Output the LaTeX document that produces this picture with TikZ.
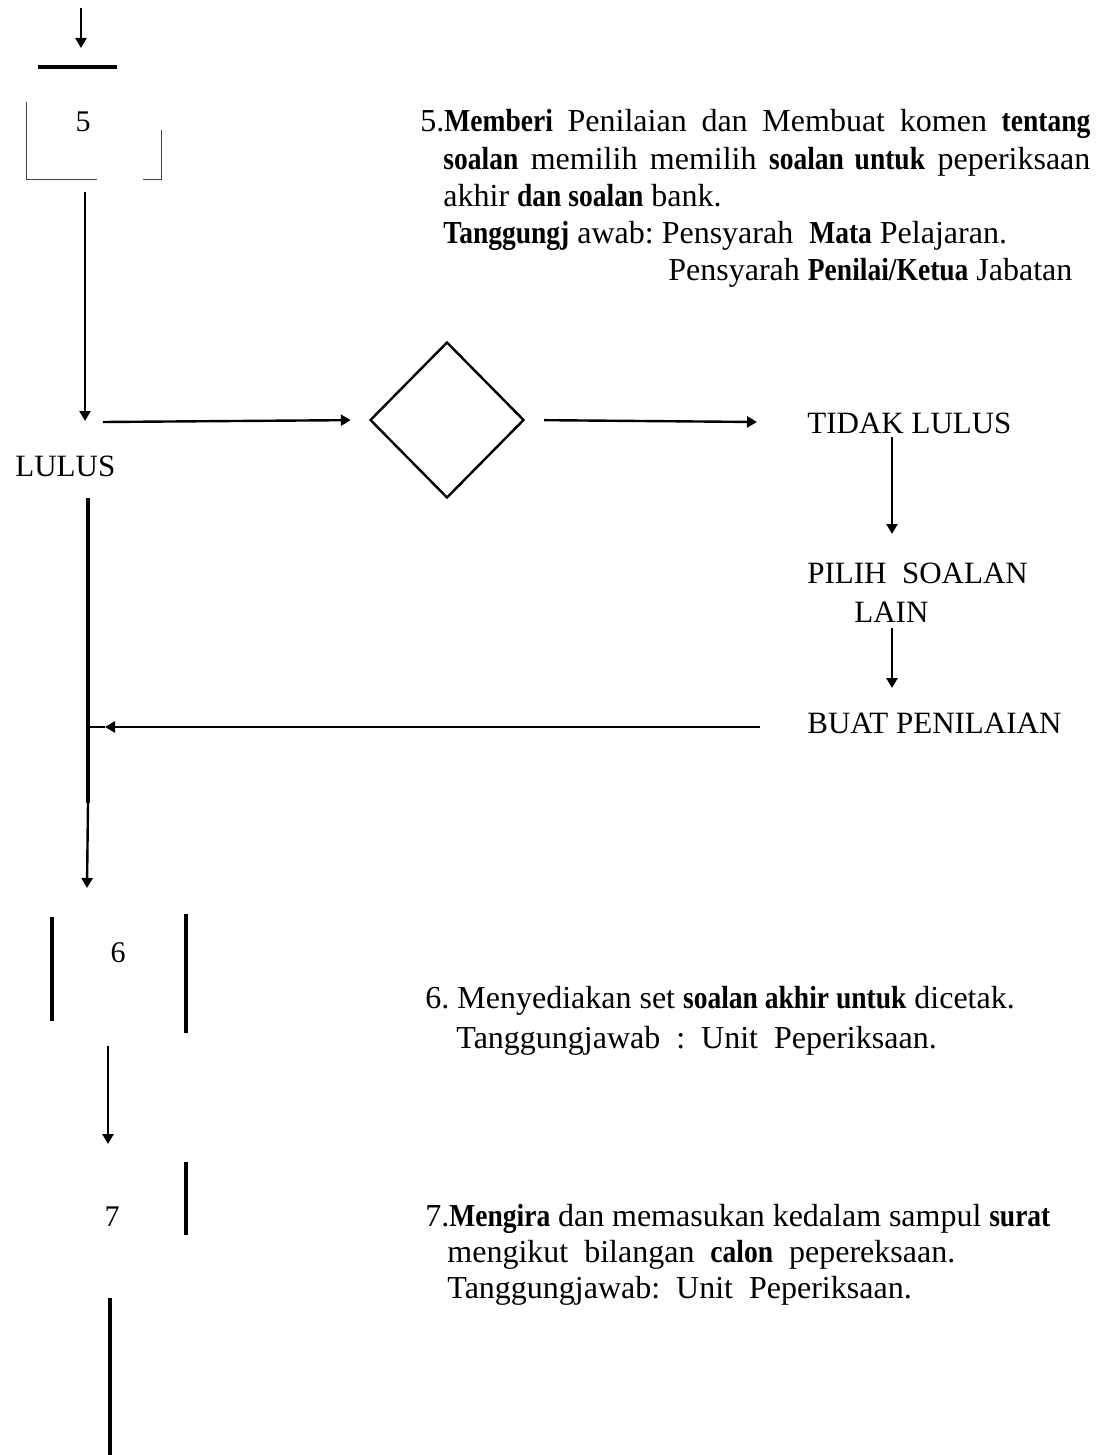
\documentclass[tikz,border=0pt]{standalone}
\usepackage{fontspec}
\setmainfont{Liberation Serif}[BoldFeatures={FakeStretch=0.86}]
\usetikzlibrary{arrows.meta,shapes.geometric}

\tikzset{
	flow/.style={line width=1.2pt,-{Triangle[length=5pt,width=5.5pt]}},
	bar/.style={line width=1.6pt},
	faint/.style={line width=0.5pt,black!75},
	txt/.style={anchor=base west,inner sep=0pt,font=\fontsize{16pt}{18pt}\selectfont\frenchspacing},
	lbl/.style={anchor=base west,inner sep=0pt,font=\fontsize{15.5pt}{18pt}\selectfont},
	num/.style={inner sep=0pt,font=\fontsize{15pt}{18pt}\selectfont},
	dec/.style={draw,diamond,line width=1.2pt,inner sep=0pt,minimum width=77pt,minimum height=78pt}
}

\begin{document}
\begin{tikzpicture}[x=0.5pt,y=-0.5pt]
	\useasboundingbox (0,0) rectangle (1102,1455);
	
	\coordinate (in1) at (81,8);
	\coordinate (in2) at (81,48);
	\draw[flow] (in1) -- (in2);
	\draw[bar] (38,67) -- (117,67);
	
	\node[num] (n5) at (83,122) {5};
	\draw[faint] (26,102) -- (26,180) -- (97,180);
	\draw[faint] (143,180) -- (161,180) -- (161,130);
	
	\coordinate (v1) at (85,192);
	\coordinate (v2) at (85,421);
	\draw[flow] (v1) -- (v2);
	
	\node[dec] (d) at (447,420) {};
	\coordinate (h1) at (103,422);
	\draw[flow,shorten >=9pt] (h1) -- (d.west);
	
	\node[lbl] (tidak) at (807,433) {TIDAK LULUS};
	\coordinate (h2) at (757,422);
	\draw[flow,shorten <=9.5pt] (d.east) -- (h2);
	
	\node[lbl] (lulus) at (15,476) {LULUS};
	
	\coordinate (t1) at (892,437);
	\coordinate (t2) at (892,534);
	\draw[flow] (t1) -- (t2);
	\node[lbl] (pilih) at (807,583) {PILIH\ \ SOALAN};
	\node[lbl] (lain) at (854,622) {LAIN};
	\coordinate (t3) at (892,628);
	\coordinate (t4) at (892,688);
	\draw[flow] (t3) -- (t4);
	\node[lbl] (buat) at (807,733) {BUAT PENILAIAN};
	
	\coordinate (b1) at (760,727);
	\coordinate (b2) at (105,727);
	\coordinate (j) at (88,727);
	\draw[flow] (b1) -- (b2);
	\draw[flow,-] (b2) -- (j);
	
	\coordinate (l1) at (88,498);
	\coordinate (l2) at (88,803);
	\coordinate (l3) at (87,888);
	\draw[bar] (l1) -- (l2);
	\draw[flow] (l2) -- (l3);
	
	\node[num] (n6) at (118,953) {6};
	\draw[bar] (52,917) -- (52,1021);
	\draw[bar] (186,914) -- (186,1033);
	
	\coordinate (s1) at (108,1046);
	\coordinate (s2) at (108,1144);
	\draw[flow] (s1) -- (s2);
	
	\node[num] (n7) at (112,1217) {7};
	\draw[bar] (186,1162) -- (186,1235);
	\draw[bar] (110,1298) -- (110,1455);
	
	\node[txt] (k5a) at (420,132) {\makebox[335pt][s]{5.\textbf{Memberi} Penilaian dan Membuat komen \textbf{tentang}}};
	\node[txt] (k5b) at (443,170) {\makebox[323.5pt][s]{\textbf{soalan} memilih memilih \textbf{soalan untuk} peperiksaan}};
	\node[txt] (k5c) at (443,207) {akhir \textbf{dan soalan} bank.};
	\node[txt] (k5d) at (443,243) {\textbf{Tanggungj} awab: Pensyarah\ \ \textbf{Mata} Pelajaran.};
	\node[txt] (k5e) at (668,280) {Pensyarah \textbf{Penilai/Ketua} Jabatan};
	
	\node[txt] (k6a) at (425,1008) {6. Menyediakan set \textbf{soalan akhir untuk} dicetak.};
	\node[txt] (k6b) at (456,1048) {Tanggungjawab\ \ :\ \ Unit\ \ Peperiksaan.};
	
	\node[txt] (k7a) at (425,1226) {\makebox[312.5pt][s]{7.\textbf{Mengira} dan memasukan kedalam sampul \textbf{surat}}};
	\node[txt] (k7b) at (447,1262) {mengikut\ \ bilangan\ \ \textbf{calon}\ \ pepereksaan.};
	\node[txt] (k7c) at (447,1298) {Tanggungjawab:\ \ Unit\ \ Peperiksaan.};
\end{tikzpicture}
\end{document}
